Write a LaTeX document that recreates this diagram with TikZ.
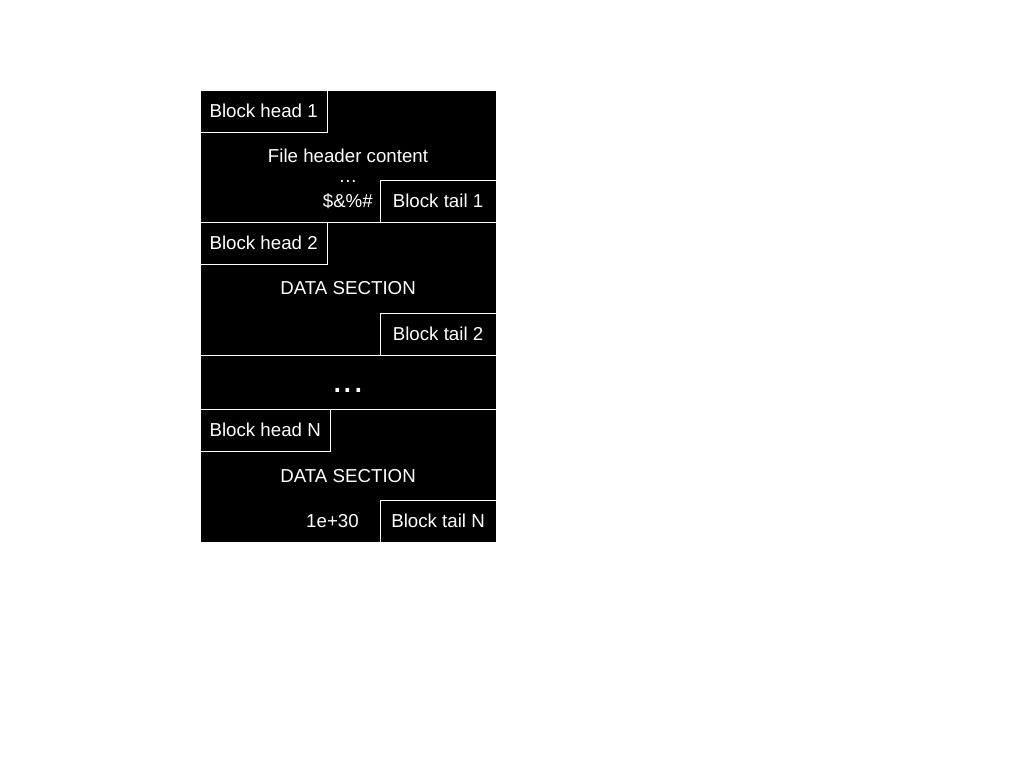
\documentclass[tikz,border=0pt]{standalone}
\usepackage{fontspec}
\setmainfont{Liberation Sans}
\usetikzlibrary{positioning}

\begin{document}
\begin{tikzpicture}[x=0.025cm,y=-0.025cm,text=white,font=\fontsize{13.3}{16}\selectfont]

      \useasboundingbox (0,0) rectangle (1024,768);

      \begin{scope}
        \clip (200,90) rectangle (496,542);
        \fill[black] (200,90) rectangle (496,542);

        \begin{scope}[every node/.style={rectangle,draw=white,line width=0.7pt,inner sep=0pt,outer sep=0pt,minimum width=7.4cm}]
          \node[anchor=north west,minimum height=3.3cm] (s1) at (200,90) {File header content};
          \node[below=0pt of s1,minimum height=3.325cm] (s2) {DATA SECTION};
          \node[below=0pt of s2,minimum height=1.35cm] (s3) {};
          \node[below=0pt of s3,minimum height=3.325cm] (sN) {DATA SECTION};
        \end{scope}

        \begin{scope}[every node/.style={rectangle,draw=white,line width=0.7pt,inner xsep=6.8pt,inner ysep=0pt,outer sep=0pt,minimum height=1.05cm}]
          \node[anchor=north west] (h1) at (s1.north west) {Block head 1};
          \node[anchor=north west] (h2) at (s2.north west) {Block head 2};
          \node[anchor=north west] (hN) at (sN.north west) {Block head N};
          \node[anchor=south east,minimum width=2.9cm] (t1) at (s1.south east) {Block tail 1\hspace{5pt}};
          \node[anchor=south east,minimum width=2.9cm] (t2) at (s2.south east) {Block tail 2\hspace{5pt}};
          \node[anchor=south east,minimum width=2.9cm] (tN) at (sN.south east) {Block tail N\hspace{5pt}};
        \end{scope}

        \begin{scope}[every node/.style={inner sep=0pt}]
          \node[anchor=base] (e1) at (348,183) {…};
          \node[anchor=east,xshift=-0.175cm] (c1) at (t1.west) {\$\&\%\#};
          \node[anchor=base,font=\fontsize{27}{30}\selectfont] (e3) at (348,392) {...};
          \node[anchor=east,xshift=-0.525cm] (cN) at (tN.west) {1e+30};
        \end{scope}

      \end{scope}

    \end{tikzpicture}
\end{document}
